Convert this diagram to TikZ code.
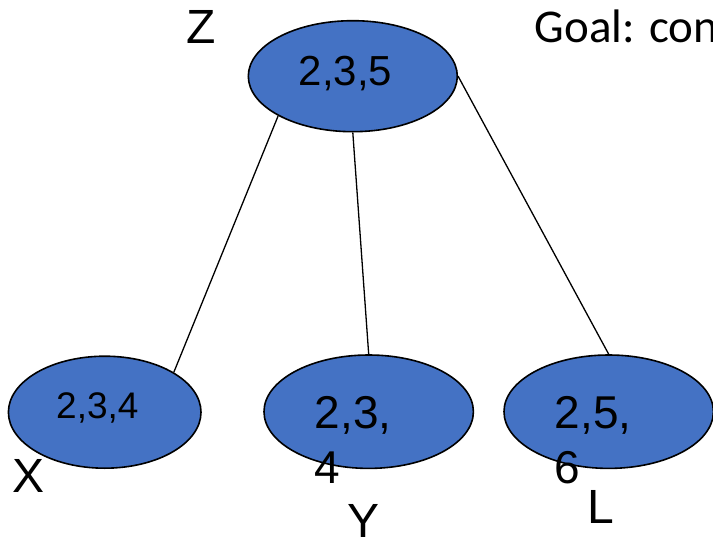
\documentclass[tikz,border=0pt]{standalone}
\usepackage{fontspec}
\setmainfont{Liberation Sans}
\newfontfamily\goalfont{Carlito}
\usetikzlibrary{shapes.geometric}

\definecolor{setblue}{HTML}{4472C4}

\tikzset{
  setnode/.style={ellipse, draw=black, line width=1.6pt, fill=setblue,
    inner sep=0pt, minimum width=#1},
  setnode/.default=209pt,
  settext/.style={inner sep=0pt, anchor=base west, align=left},
  varname/.style={inner sep=0pt, anchor=base west, font=\fontsize{48}{58}\selectfont},
  edge/.style={line width=1.3pt, black}
}

\begin{document}
\begin{tikzpicture}[x=1pt, y=-1pt]
  \useasboundingbox (0,0) rectangle (713,541);
  \clip (0,0) rectangle (713,541);

  % clusters
  \node[setnode=209pt, minimum height=111pt] (z) at (352.8,76.2) {};
  \node[setnode=192.6pt, minimum height=112pt] (x) at (104.7,412.2) {};
  \node[setnode=209.4pt, minimum height=113.4pt] (y) at (368.7,411.7) {};
  \node[setnode=209.4pt, minimum height=113.4pt] (l) at (608.7,411.7) {};

  % tree edges
  \draw[edge] (z.208.5) -- (x.30.5);
  \draw[edge] (z.270) -- (y.north);
  \draw[edge] (z.east) -- (l.north);

  % cluster contents (multi-line nodes sit on their last baseline)
  \node[settext, font=\fontsize{42}{50}\selectfont] (zt) at (298.5,85) {2,3,5};
  \node[settext, font=\fontsize{37}{44}\selectfont] (xt) at (56,418.3) {2,3,4};
  \node[settext, font=\fontsize{46}{55}\selectfont] (yt) at (314.5,483) {2,3,\\4};
  \node[settext, font=\fontsize{46}{55}\selectfont] (lt) at (554.5,483) {2,5,\\6};

  % variable names
  \node[varname] (zn) at (186,43) {Z};
  \node[varname] (xn) at (12,492) {X};
  \node[varname] (yn) at (347,537) {Y};
  \node[varname] (ln) at (587,523) {L};

  % heading
  \node[inner sep=0pt, anchor=base west, font=\goalfont\fontsize{47}{56}\selectfont]
    (goal) at (534.5,42.5) {Goal: con};
\end{tikzpicture}
\end{document}
